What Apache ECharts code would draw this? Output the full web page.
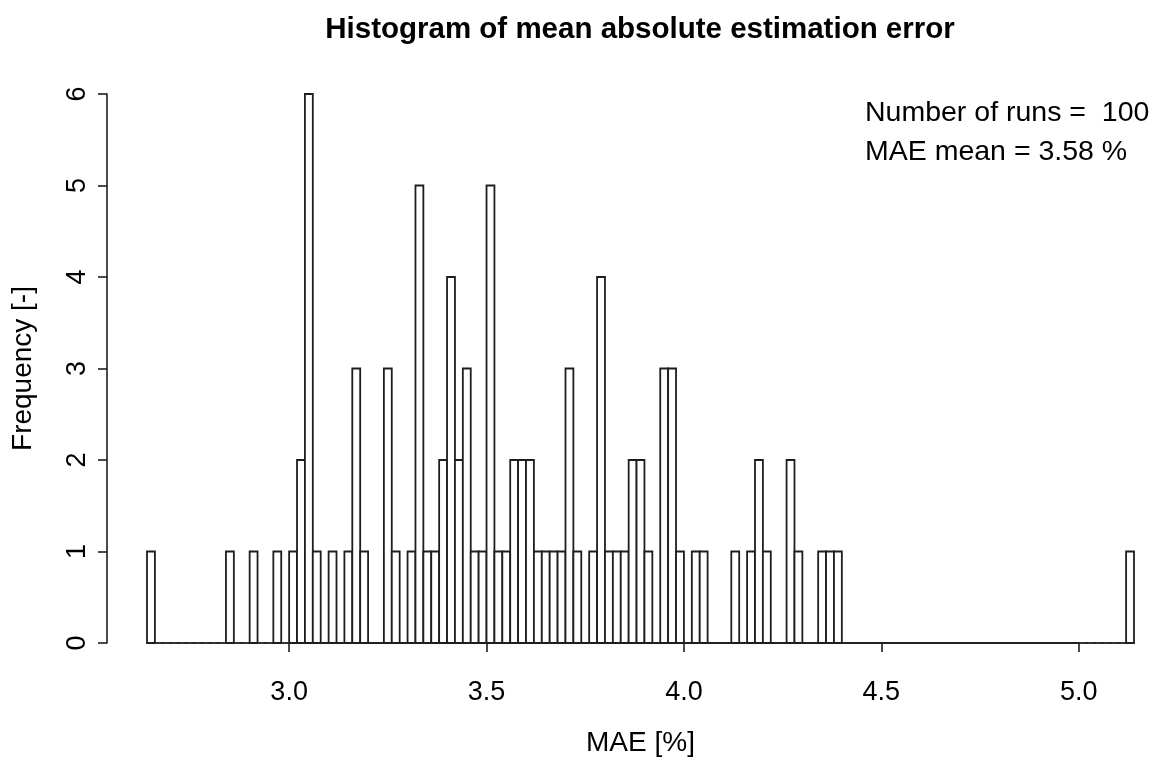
<!DOCTYPE html>
<html>
<head>
<meta charset="utf-8">
<script src="https://cdn.jsdelivr.net/npm/echarts@6/dist/echarts.min.js"></script>
<style>
html,body{margin:0;padding:0;background:#fff;}
#chart{width:1160px;height:765px;}
</style>
</head>
<body>
<div id="chart"></div>
<script>
// ---- data ----
var titleText = 'Histogram of mean absolute estimation error';
var xName = 'MAE [%]';
var yName = 'Frequency [-]';
var noteLines = ['Number of runs =  100', 'MAE mean = 3.58 %'];
var binStart = 2.64;
var binWidth = 0.02;
var binEnd = 5.14;
var counts = [
  1,0,0,0,0,0,0,0,0,0,
  1,0,0,1,0,0,1,0,1,2,
  6,1,0,1,0,1,3,1,0,0,
  3,1,0,1,5,1,1,2,4,2,
  3,1,1,5,1,1,2,2,2,1,
  1,1,1,3,1,0,1,4,1,1,
  1,2,2,1,0,3,3,1,0,1,
  1,0,0,0,1,0,1,2,1,0,
  0,2,1,0,0,1,1,1,0,0,
  0,0,0,0,0,0,0,0,0,0,
  0,0,0,0,0,0,0,0,0,0,
  0,0,0,0,0,0,0,0,0,0,
  0,0,0,0,1
];
var xTicks = [3.0, 3.5, 4.0, 4.5, 5.0];
var yTicks = [0, 1, 2, 3, 4, 5, 6];

// ---- build ----
var histData = counts.map(function (c, i) {
  var lo = +(binStart + i * binWidth).toFixed(2);
  var hi = +(binStart + (i + 1) * binWidth).toFixed(2);
  return [lo, hi, c];
});

var FONT = "'Liberation Sans', Arial, sans-serif";
var plotLeft = 147, plotRight = 1134, plotTop = 94, plotBottom = 643;
var pxPerUnit = (plotRight - plotLeft) / (binEnd - binStart);
var tickAxisLeft = plotLeft + (xTicks[0] - binStart) * pxPerUnit;
var tickAxisWidth = (xTicks[xTicks.length - 1] - xTicks[0]) * pxPerUnit;
var INK = '#1e1e1e';

var chart = echarts.init(document.getElementById('chart'));
chart.setOption({
  backgroundColor: '#ffffff',
  animation: false,
  textStyle: { fontFamily: FONT },
  grid: [
    { left: plotLeft, top: plotTop, width: plotRight - plotLeft, height: plotBottom - plotTop, containLabel: false },
    { left: tickAxisLeft, top: plotTop, width: tickAxisWidth, height: plotBottom - plotTop, containLabel: false }
  ],
  xAxis: [
    {
      type: 'value', gridIndex: 0, min: binStart, max: binEnd,
      offset: 22,
      axisLine: { show: false }, axisTick: { show: false }, axisLabel: { show: false }, splitLine: { show: false },
      name: xName, nameLocation: 'middle', nameGap: 64,
      nameTextStyle: { fontFamily: FONT, fontSize: 28, color: '#000' }
    },
    {
      type: 'value', gridIndex: 1, min: xTicks[0], max: xTicks[xTicks.length - 1], interval: 0.5,
      offset: 22,
      axisLine: { show: true, lineStyle: { color: INK, width: 1.6 } },
      axisTick: { show: true, length: 9, lineStyle: { color: INK, width: 1.6 } },
      axisLabel: { show: true, margin: 14, color: '#000', fontFamily: FONT, fontSize: 27,
        formatter: function (v) { return v.toFixed(1); } },
      splitLine: { show: false }
    }
  ],
  yAxis: [
    {
      type: 'value', gridIndex: 0, min: yTicks[0], max: yTicks[yTicks.length - 1], interval: 1,
      offset: 40,
      axisLine: { show: true, lineStyle: { color: INK, width: 1.6 } },
      axisTick: { show: true, length: 9, lineStyle: { color: INK, width: 1.6 } },
      axisLabel: { show: true, rotate: 90, margin: 16, color: '#000', fontFamily: FONT, fontSize: 27 },
      splitLine: { show: false },
      name: yName, nameLocation: 'middle', nameGap: 70, nameRotate: 90,
      nameTextStyle: { fontFamily: FONT, fontSize: 28, color: '#000' }
    },
    {
      type: 'value', gridIndex: 1, min: 0, max: 6, show: false
    }
  ],
  graphic: [
    {
      type: 'text', x: 640, y: 30,
      style: { text: titleText, textAlign: 'center', textVerticalAlign: 'middle',
        font: "bold 29.5px " + FONT, fill: '#000' }
    },
    {
      type: 'text', x: 865, y: 113,
      style: { text: noteLines[0], textAlign: 'left', textVerticalAlign: 'middle', font: "28.5px " + FONT, fill: '#000' }
    },
    {
      type: 'text', x: 865, y: 152,
      style: { text: noteLines[1], textAlign: 'left', textVerticalAlign: 'middle', font: "28.5px " + FONT, fill: '#000' }
    }
  ],
  series: [
    {
      type: 'custom', xAxisIndex: 0, yAxisIndex: 0, clip: false,
      encode: { x: [0, 1], y: 2 },
      data: histData,
      renderItem: function (params, api) {
        var lo = api.value(0), hi = api.value(1), c = api.value(2);
        var pTop = api.coord([lo, c]);
        var pBot = api.coord([hi, 0]);
        if (c === 0) {
          return {
            type: 'line',
            shape: { x1: pTop[0], y1: pBot[1], x2: pBot[0], y2: pBot[1] },
            style: { stroke: INK, lineWidth: 1.8, lineCap: 'square' }
          };
        }
        return {
          type: 'rect',
          shape: { x: pTop[0], y: pTop[1], width: pBot[0] - pTop[0], height: pBot[1] - pTop[1] },
          style: { fill: '#ffffff', stroke: INK, lineWidth: 1.8 }
        };
      }
    }
  ]
});
</script>
</body>
</html>
